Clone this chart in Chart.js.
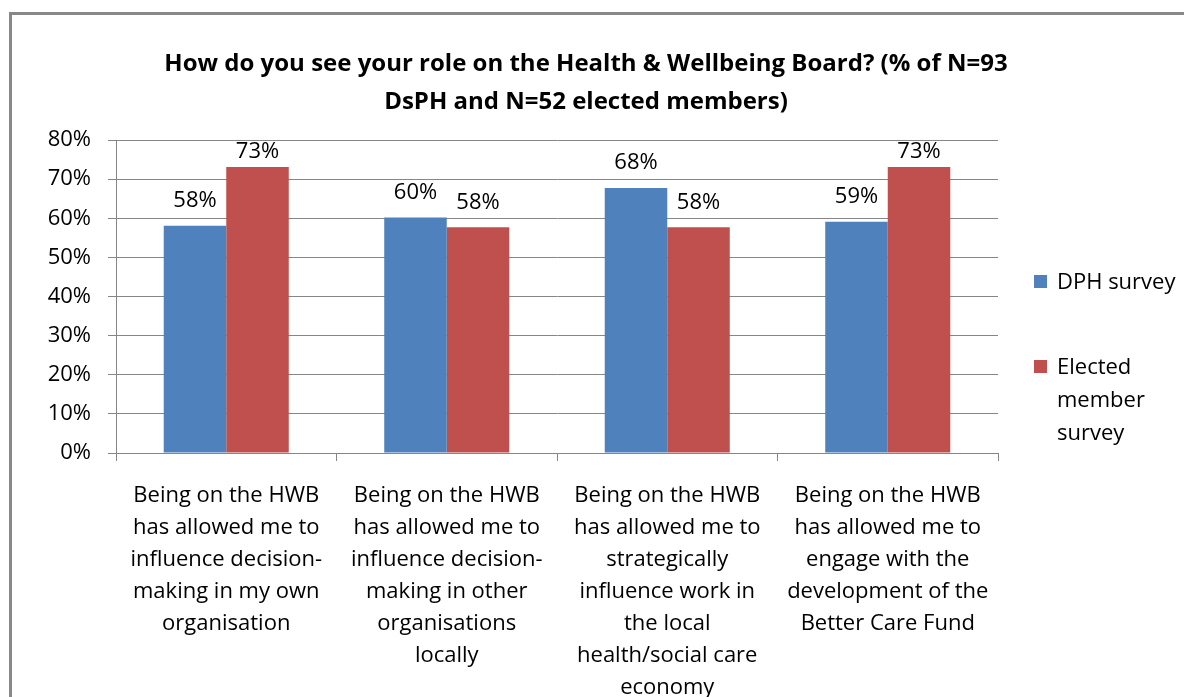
<!DOCTYPE html>
<html>
<head>
<meta charset="utf-8">
<script src="https://cdn.jsdelivr.net/npm/chart.js@4"></script>
<style>
    html, body { margin: 0; padding: 0; background: #fff; overflow: hidden; }
    body { width: 1184px; height: 697px; position: relative; font-family: "Open Sans", Lato, sans-serif; }
    .frame { position: absolute; left: 9px; top: 12px; width: 1300px; height: 800px; border: 3px solid #888; box-sizing: border-box; }
    .chart-wrap { position: absolute; left: 0; top: 0; width: 1184px; height: 697px; }
    .title { position: absolute; left: -6px; top: 43px; width: 1184px; text-align: center; font-weight: bold; font-size: 24px; line-height: 38px; color: #000; }
    .legend { position: absolute; left: 1034px; top: 264px; font-size: 22px; color: #000; }
    .legend-item { display: flex; align-items: flex-start; margin-bottom: 52px; line-height: 33px; }
    .legend-box { width: 13px; height: 13px; margin-top: 11px; margin-right: 10px; flex: none; }
</style>
</head>
<body>
<div class="frame"></div>
<div class="chart-wrap"><canvas id="roleChart" width="1184" height="697"></canvas></div>
<div class="title">How do you see your role on the Health &amp; Wellbeing Board? (% of N=93<br>DsPH and N=52 elected members)</div>
<div class="legend" id="legend"></div>
<script>
const categories = [
    ["Being on the HWB", "has allowed me to", "influence decision-", "making in my own", "organisation"],
    ["Being on the HWB", "has allowed me to", "influence decision-", "making in other", "organisations", "locally"],
    ["Being on the HWB", "has allowed me to", "strategically", "influence work in", "the local", "health/social care", "economy"],
    ["Being on the HWB", "has allowed me to", "engage with the", "development of the", "Better Care Fund"]
];
const dphSurvey = [58.1, 60.2, 67.7, 59.1];
const electedSurvey = [73.1, 57.7, 57.7, 73.1];
const seriesNames = ["DPH survey", ["Elected", "member", "survey"]];
const seriesColors = ["#4F81BD", "#C0504D"];
const yTicks = [0, 10, 20, 30, 40, 50, 60, 70, 80];

const FONT = "'Open Sans', Lato, sans-serif";

// labels above bars (kept inside the plot area, like Excel does)
const valueLabels = {
    id: "valueLabels",
    afterDatasetsDraw(chart) {
        const ctx = chart.ctx;
        const top = chart.chartArea.top;
        ctx.save();
        ctx.font = "22px " + FONT;
        ctx.fillStyle = "#000";
        ctx.textAlign = "center";
        ctx.textBaseline = "middle";
        chart.data.datasets.forEach((ds, i) => {
            chart.getDatasetMeta(i).data.forEach((bar, j) => {
                const y = Math.max(bar.y - 25, top + 12);
                ctx.fillText(Math.round(ds.data[j]) + "%", bar.x, y);
            });
        });
        ctx.restore();
    }
};

const ctx = document.getElementById("roleChart").getContext("2d");
new Chart(ctx, {
    type: "bar",
    data: {
        labels: categories,
        datasets: [
            { label: "DPH survey", data: dphSurvey, backgroundColor: seriesColors[0] },
            { label: "Elected member survey", data: electedSurvey, backgroundColor: seriesColors[1] }
        ]
    },
    options: {
        responsive: false,
        animation: false,
        layout: { padding: { left: 0, right: 186, top: 140, bottom: 0 } },
        datasets: { bar: { categoryPercentage: 0.567, barPercentage: 1.0 } },
        plugins: {
            legend: { display: false },
            tooltip: { enabled: false },
            title: { display: false }
        },
        scales: {
            x: {
                grid: { display: true, drawOnChartArea: false, drawTicks: true, tickLength: 8, color: "#868686", offset: true },
                border: { display: true, color: "#868686" },
                ticks: {
                    color: "#000", padding: 19, maxRotation: 0, autoSkip: false,
                    font: { family: FONT, size: 22, lineHeight: 32 / 22 }
                },
                afterFit(scale) { scale.height = 244; }
            },
            y: {
                min: 0, max: 80,
                afterBuildTicks(scale) { scale.ticks = yTicks.map(v => ({ value: v })); },
                grid: { color: "#868686", tickLength: 8, drawTicks: true },
                border: { display: true, color: "#868686" },
                ticks: {
                    color: "#000", padding: 17,
                    font: { family: FONT, size: 22 },
                    callback: v => v + "%"
                },
                afterFit(scale) { scale.width = 116; }
            }
        }
    },
    plugins: [valueLabels]
});

// html legend
const legend = document.getElementById("legend");
seriesNames.forEach((name, i) => {
    const item = document.createElement("div");
    item.className = "legend-item";
    const box = document.createElement("div");
    box.className = "legend-box";
    box.style.background = seriesColors[i];
    const txt = document.createElement("div");
    txt.innerHTML = [].concat(name).join("<br>");
    item.appendChild(box);
    item.appendChild(txt);
    legend.appendChild(item);
});
</script>
</body>
</html>
